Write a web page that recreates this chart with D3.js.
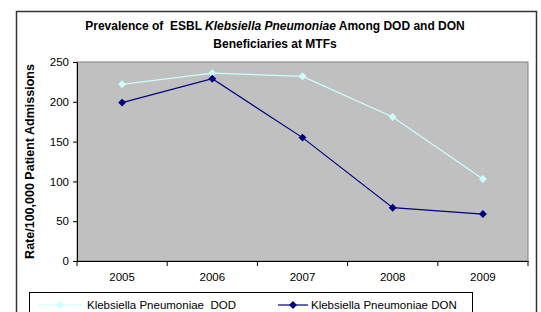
<!DOCTYPE html>
<html>
<head>
<meta charset="utf-8">
<script src="https://cdn.jsdelivr.net/npm/d3@7"></script>
<style>
  body { margin: 0; background: #fff; }
  svg { display: block; font-family: "Liberation Sans", Arial, sans-serif; }
  text { white-space: pre; }
</style>
</head>
<body>
<div id="chart"></div>
<script>
var years = ["2005", "2006", "2007", "2008", "2009"];
var dodValues = [222, 236, 232, 181, 103];
var donValues = [199, 229, 155, 67, 59];
var yTicks = [0, 50, 100, 150, 200, 250];

var width = 541, height = 312;
var margin = { left: 77, top: 62, right: 13, bottom: 51 };

var svg = d3.select("#chart").append("svg")
    .attr("width", width)
    .attr("height", height);

// outer frame
svg.append("rect")
    .attr("x", 16.5).attr("y", 11.5)
    .attr("width", 520).attr("height", 310)
    .attr("fill", "#fff")
    .attr("stroke", "#333")
    .attr("stroke-width", 1.5);

var x = d3.scaleBand()
    .domain(years)
    .range([margin.left, width - margin.right]);

var y = d3.scaleLinear()
    .domain([0, 250])
    .range([height - margin.bottom, margin.top]);

// plot area
svg.append("rect")
    .attr("x", margin.left).attr("y", margin.top)
    .attr("width", x.range()[1] - margin.left)
    .attr("height", y(0) - margin.top)
    .attr("fill", "#c0c0c0")
    .attr("stroke", "#808080")
    .attr("stroke-width", 1);

// axes
var xAxis = svg.append("g")
    .attr("transform", "translate(0," + y(0) + ")")
    .call(d3.axisBottom(x).tickSize(0).tickPadding(12));
xAxis.select(".domain").attr("stroke", "#000");
xAxis.selectAll("text").attr("font-size", 11.5).attr("fill", "#000")
    .attr("font-family", "Liberation Sans, Arial, sans-serif");
// tick marks between categories
xAxis.selectAll(".sep")
    .data(years.concat(["end"]))
    .enter().append("line")
    .attr("x1", function(d, i) { return margin.left + i * x.bandwidth(); })
    .attr("x2", function(d, i) { return margin.left + i * x.bandwidth(); })
    .attr("y1", 0).attr("y2", 5)
    .attr("stroke", "#000");

var yAxis = svg.append("g")
    .attr("transform", "translate(" + margin.left + ",0)")
    .call(d3.axisLeft(y).tickValues(yTicks).tickSize(4).tickPadding(4));
yAxis.select(".domain").attr("stroke", "#000");
yAxis.selectAll("text").attr("font-size", 11.5).attr("fill", "#000")
    .attr("font-family", "Liberation Sans, Arial, sans-serif");

// title
var title = svg.append("text")
    .attr("x", 275).attr("y", 30)
    .attr("text-anchor", "middle")
    .attr("font-size", 12)
    .attr("font-weight", "bold");
title.append("tspan").text("Prevalence of  ESBL ");
title.append("tspan").attr("font-style", "italic").text("Klebsiella Pneumoniae");
title.append("tspan").text(" Among DOD and DON");
svg.append("text")
    .attr("x", 275).attr("y", 48)
    .attr("text-anchor", "middle")
    .attr("font-size", 12)
    .attr("font-weight", "bold")
    .text("Beneficiaries at MTFs");

// y label
svg.append("text")
    .attr("transform", "translate(34," + (y(125)) + ") rotate(-90)")
    .attr("text-anchor", "middle")
    .attr("font-size", 12.5)
    .attr("font-weight", "bold")
    .text("Rate/100,000 Patient Admissions");

var series = [
  { name: "Klebsiella Pneumoniae  DOD", values: dodValues, color: "#ccffff" },
  { name: "Klebsiella Pneumoniae DON", values: donValues, color: "#000080" }
];

var line = d3.line()
    .x(function(d, i) { return x(years[i]) + x.bandwidth() / 2; })
    .y(function(d) { return y(d); });

function diamond(g, cx, cy, color) {
  g.append("path")
      .attr("d", d3.symbol().type(d3.symbolDiamond2 || d3.symbolDiamond).size(40)())
      .attr("transform", "translate(" + cx + "," + cy + ")")
      .attr("fill", color);
}

series.forEach(function(s) {
  var g = svg.append("g");
  g.append("path")
      .datum(s.values)
      .attr("d", line)
      .attr("fill", "none")
      .attr("stroke", s.color)
      .attr("stroke-width", 1.2);
  s.values.forEach(function(v, i) {
    diamond(g, x(years[i]) + x.bandwidth() / 2, y(v), s.color);
  });
});

// legend
svg.append("rect")
    .attr("x", 29.5).attr("y", 292.5)
    .attr("width", 443).attr("height", 30)
    .attr("fill", "#fff")
    .attr("stroke", "#000")
    .attr("stroke-width", 1);

var legendPos = [{ x1: 38, x2: 82, tx: 87 }, { x1: 278, x2: 308, tx: 311 }];
series.forEach(function(s, i) {
  var p = legendPos[i];
  var g = svg.append("g");
  g.append("line")
      .attr("x1", p.x1).attr("x2", p.x2)
      .attr("y1", 305).attr("y2", 305)
      .attr("stroke", s.color)
      .attr("stroke-width", 1.2);
  diamond(g, (p.x1 + p.x2) / 2, 305, s.color);
  g.append("text")
      .attr("x", p.tx).attr("y", 309)
      .attr("font-size", 11.5)
      .text(s.name);
});
</script>
</body>
</html>
